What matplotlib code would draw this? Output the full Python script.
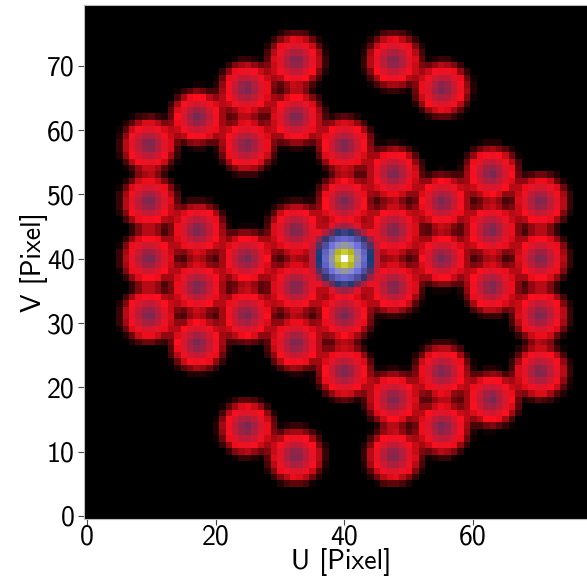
import numpy as np
import matplotlib
matplotlib.use("Agg")
import matplotlib.pyplot as plt

# Baseline centres (U, V) in pixels of the hexagonal-aperture MTF
u_centres = [32.4, 47.6,
             24.8, 55.2,
             17.2, 32.4,
             9.6, 24.8, 40.0,
             47.6, 62.8,
             9.6, 40.0, 55.2, 70.4,
             17.2, 32.4, 47.6, 62.8,
             9.6, 24.8, 55.2, 70.4,
             17.2, 32.4, 47.6, 62.8,
             9.6, 24.8, 40.0, 70.4,
             17.2, 32.4,
             40.0, 55.2, 70.4,
             47.6, 62.8,
             24.8, 55.2,
             32.4, 47.6]
v_centres = [70.7, 70.7,
             66.3, 66.3,
             61.9, 61.9,
             57.6, 57.6, 57.6,
             53.2, 53.2,
             48.8, 48.8, 48.8, 48.8,
             44.4, 44.4, 44.4, 44.4,
             40.0, 40.0, 40.0, 40.0,
             35.6, 35.6, 35.6, 35.6,
             31.2, 31.2, 31.2, 31.2,
             26.8, 26.8,
             22.4, 22.4, 22.4,
             18.1, 18.1,
             13.7, 13.7,
             9.3, 9.3]
side_peak = 0.175         # relative height of every off-zero baseline
zero_centre = (40.0, 40.0)
zero_peak = 1.0

n_pix = 80
side_diam = 5.6
zero_diam = 6.2


def chat(r, diam):
    q = np.clip(r / diam, 0.0, 1.0)
    return (2.0 / np.pi) * (np.arccos(q) - q * np.sqrt(1.0 - q * q))


yy, xx = np.mgrid[0:n_pix, 0:n_pix].astype(float)
mtf = np.zeros((n_pix, n_pix))
for u, v in zip(u_centres, v_centres):
    mtf += side_peak * chat(np.hypot(xx - u, yy - v), side_diam)
mtf += zero_peak * chat(np.hypot(xx - zero_centre[0], yy - zero_centre[1]), zero_diam)

plt.rcParams["font.family"] = ["cmss10", "DejaVu Sans"]
plt.rcParams["axes.unicode_minus"] = False
plt.rcParams["mathtext.fontset"] = "cm"

fig = plt.figure(figsize=(5.87, 5.83), dpi=100)
ax = fig.add_axes([83.8 / 587, 1 - 519.2 / 583, 514.4 / 587, 514.4 / 583])
ax.imshow(mtf, origin="lower", cmap="gist_stern", vmin=0, vmax=mtf.max(),
          interpolation="nearest", aspect="auto")
ax.set_xticks([0, 20, 40, 60])
ax.set_yticks([0, 10, 20, 30, 40, 50, 60, 70])
ax.tick_params(labelsize=20, length=4, width=0.8, color="#444444", pad=2.5)
ax.tick_params(axis="x", pad=0)
ax.set_xlabel("U [Pixel]", fontsize=20, labelpad=-1)
ax.set_ylabel("V [Pixel]", fontsize=20, labelpad=-1)
for s in ax.spines.values():
    s.set_color("#bbbbbb")
fig.text(0.562, 1.0 + 2.0 / 583, "MTF", ha="center", va="baseline", fontsize=20)

fig.savefig("out.png", dpi=100)
